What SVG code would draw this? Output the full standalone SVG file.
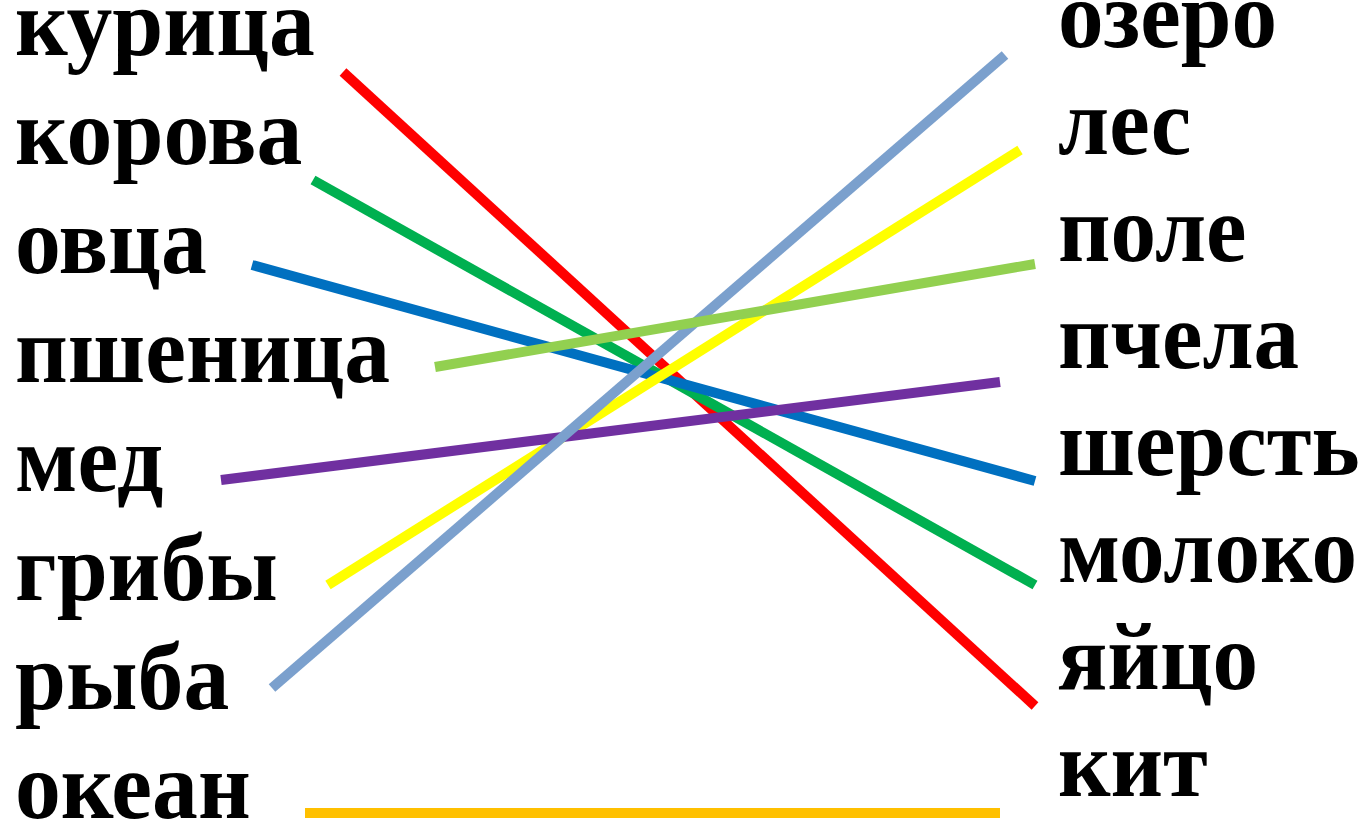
<svg xmlns="http://www.w3.org/2000/svg" width="1364" height="820" viewBox="0 0 1364 820">
<style>
text{font-family:"Liberation Serif","Times New Roman",serif;font-weight:bold;font-size:96px;fill:#000}
line{stroke-width:10;fill:none}
</style>
<rect width="1364" height="820" fill="#fff"/>
<g id="left" transform="translate(15,0) scale(0.955,1)">
<g id="n-kuritsa"><text x="0" y="55">курица</text></g>
<g id="n-korova"><text x="0" y="164">корова</text></g>
<g id="n-ovtsa"><text x="0" y="273">овца</text></g>
<g id="n-pshenitsa"><text x="0" y="382">пшеница</text></g>
<g id="n-med"><text x="0" y="491">мед</text></g>
<g id="n-griby"><text x="0" y="600">грибы</text></g>
<g id="n-ryba"><text x="0" y="709">рыба</text></g>
<g id="n-okean"><text x="0" y="818">океан</text></g>
</g>
<g id="right" transform="translate(1058,0) scale(0.95,1)">
<g id="n-ozero"><text x="0" y="47">озеро</text></g>
<g id="n-les"><text x="0" y="154">лес</text></g>
<g id="n-pole"><text x="0" y="261">поле</text></g>
<g id="n-pchela"><text x="0" y="368">пчела</text></g>
<g id="n-sherst"><text x="0" y="475">шерсть</text></g>
<g id="n-moloko"><text x="0" y="582">молоко</text></g>
<g id="n-yaytso"><text x="0" y="689">яйцо</text></g>
<g id="n-kit"><text x="0" y="796">кит</text></g>
</g>
<g id="connectors">
<line x1="343" y1="72" x2="1035" y2="706" stroke="#FF0000"/>
<line x1="313" y1="180" x2="1035" y2="585" stroke="#00B050"/>
<line x1="252" y1="265" x2="1035" y2="481" stroke="#0070C0"/>
<line x1="328" y1="585" x2="1020" y2="150" stroke="#FFFF00"/>
<line x1="221" y1="480" x2="1000" y2="382" stroke="#7030A0"/>
<line x1="272" y1="688" x2="1005" y2="55" stroke="#7BA0CD"/>
<line x1="435" y1="367" x2="1035" y2="264" stroke="#92D050"/>
<line x1="305" y1="813" x2="1000" y2="813" stroke="#FFC000"/>
</g>
</svg>
